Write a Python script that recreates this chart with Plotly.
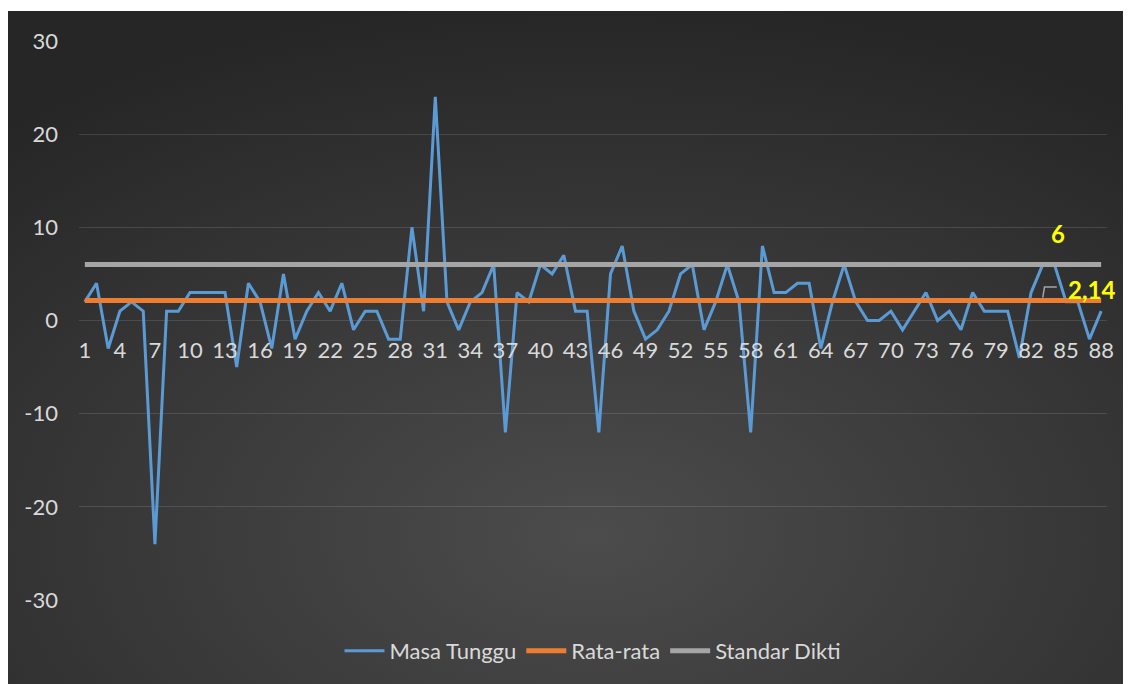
import base64
import plotly.graph_objects as go

categories = list(range(1, 89))
masa_tunggu = [2, 4, -3, 1, 2, 1, -24, 1, 1, 3,
               3, 3, 3, -5, 4, 2, -3, 5, -2, 1,
               3, 1, 4, -1, 1, 1, -2, -2, 10, 1,
               24, 2, -1, 2, 3, 6, -12, 3, 2, 6,
               5, 7, 1, 1, -12, 5, 8, 1, -2, -1,
               1, 5, 6, -1, 2, 6, 2, -12, 8, 3,
               3, 4, 4, -3, 2, 6, 2, 0, 0, 1,
               -1, 1, 3, 0, 1, -1, 3, 1, 1, 1,
               -4, 3, 6, 6, 2, 2, -2, 1]
rata_rata_value = 2.14
standar_dikti_value = 6
rata_rata = [rata_rata_value] * len(categories)
standar_dikti = [standar_dikti_value] * len(categories)
x_tick_values = list(range(1, 89, 3))
x_tick_labels = [str(v) for v in x_tick_values]
y_tick_values = [-30, -20, -10, 0, 10, 20, 30]
y_tick_labels = ["-30", "-20", "-10", "0", "10", "20", "30"]

FONT = "Lato"
TXT = "#d9d9d9"

# page body has an 8px margin; figure coordinates are page coordinates minus 8
W, H = 1123, 676
L, R, T, B = 71, 24, 33, 84
pw, ph = W - L - R, H - T - B

def px2paper_x(px):
    return (px - L) / pw

def px2paper_y(py):
    return (H - B - py) / ph

bg_left, bg_top, bg_right, bg_bottom = 0, 3, 1123, 676
bw, bh = bg_right - bg_left, bg_bottom - bg_top
svg = ('<svg xmlns="http://www.w3.org/2000/svg" width="%d" height="%d" '
       'viewBox="0 0 %d %d" preserveAspectRatio="none"><defs>'
       '<radialGradient id="g" cx="0.52" cy="0.78" r="0.8">'
       '<stop offset="0" stop-color="#4c4c4c"/><stop offset="1" stop-color="#262626"/>'
       '</radialGradient></defs><rect width="%d" height="%d" fill="url(#g)"/></svg>'
       % (bw, bh, bw, bh, bw, bh))
src = "data:image/svg+xml;base64," + base64.b64encode(svg.encode()).decode()

fig = go.Figure()
fig.add_trace(go.Scatter(x=categories, y=masa_tunggu, mode="lines", name="Masa Tunggu",
                         line=dict(color="#5b9bd5", width=3)))
fig.add_trace(go.Scatter(x=categories, y=rata_rata, mode="lines", name="Rata-rata",
                         line=dict(color="#ed7d31", width=5)))
fig.add_trace(go.Scatter(x=categories, y=standar_dikti, mode="lines", name="Standar Dikti",
                         line=dict(color="#a5a5a5", width=5)))

fig.add_layout_image(dict(source=src, xref="paper", yref="paper",
                          x=px2paper_x(bg_left), y=px2paper_y(bg_top),
                          sizex=px2paper_x(bg_right) - px2paper_x(bg_left),
                          sizey=px2paper_y(bg_top) - px2paper_y(bg_bottom),
                          xanchor="left", yanchor="top", sizing="stretch", layer="below"))

fig.add_annotation(x=84.3, y=9.3, text="<b>6</b>", showarrow=False,
                   font=dict(family=FONT, size=24, color="#ffff00"))
fig.add_annotation(x=87.2, y=3.3, text="<b>2,14</b>", showarrow=False,
                   font=dict(family=FONT, size=24, color="#ffff00"))
fig.add_shape(type="path", xref="x", yref="y",
              path="M 83.0,2.45 L 83.15,3.6 L 84.2,3.6",
              line=dict(color="#a5a5a5", width=1.5))

fig.update_layout(
    width=W, height=H,
    margin=dict(l=L, r=R, t=T, b=B),
    paper_bgcolor="white",
    plot_bgcolor="rgba(0,0,0,0)",
    font=dict(family=FONT, size=22, color=TXT),
    showlegend=True,
    legend=dict(orientation="h", x=0.5, xanchor="center", y=px2paper_y(643), yanchor="middle",
                font=dict(family=FONT, size=22, color=TXT), bgcolor="rgba(0,0,0,0)",
                itemwidth=40, tracegroupgap=0),
    xaxis=dict(range=[0.5, 88.5], tickmode="array",
               tickvals=x_tick_values, ticktext=x_tick_labels,
               showgrid=False, zeroline=False, showline=False, ticks="",
               anchor="free", position=0.5, ticklabelstandoff=14,
               tickfont=dict(family=FONT, size=22, color=TXT)),
    yaxis=dict(range=[-30, 30], tickmode="array", tickvals=y_tick_values, ticktext=y_tick_labels,
               showgrid=True, gridcolor="rgba(255,255,255,0.12)", gridwidth=1,
               zeroline=False, showline=False, ticks="", ticklabelstandoff=20,
               tickfont=dict(family=FONT, size=22, color=TXT)),
)

fig.write_html("out.html")
